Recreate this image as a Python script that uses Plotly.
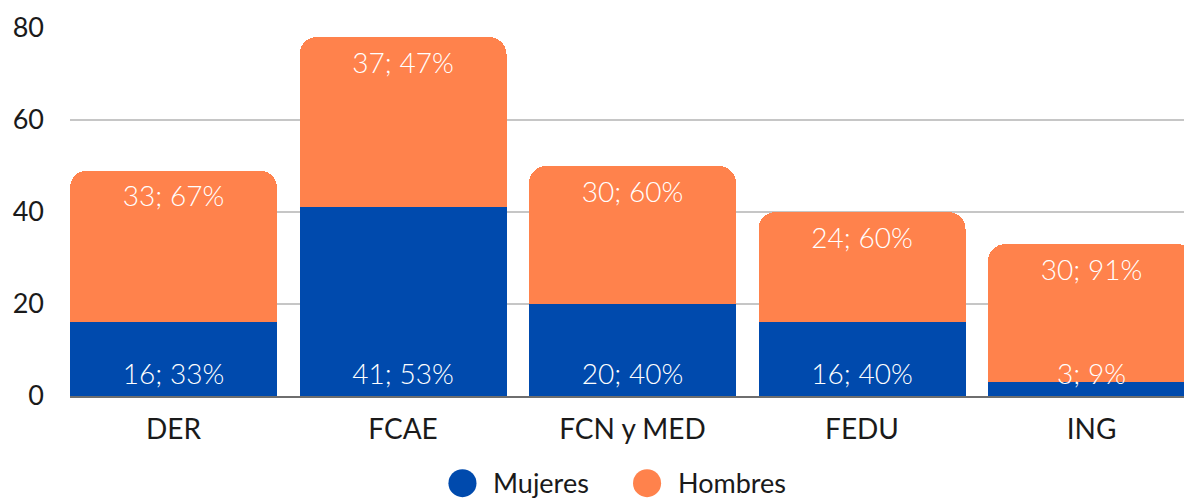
"""Stacked bar chart: Mujeres / Hombres by faculty."""

import plotly.graph_objects as go

CATEGORIES = ["DER", "FCAE", "FCN y MED", "FEDU", "ING"]
MUJERES = [16, 41, 20, 16, 3]
HOMBRES = [33, 37, 30, 24, 30]
MUJERES_PCT = [33, 53, 40, 40, 9]
HOMBRES_PCT = [67, 47, 60, 60, 91]
SERIES = ["Mujeres", "Hombres"]

BLUE = "#004AAD"
ORANGE = "#FF824C"
FONT = "Lato"

totals = [m + h for m, h in zip(MUJERES, HOMBRES)]
mujeres_text = [f"{v}; {p}%" for v, p in zip(MUJERES, MUJERES_PCT)]
hombres_text = [f"{v}; {p}%" for v, p in zip(HOMBRES, HOMBRES_PCT)]

fig = go.Figure()
fig.add_trace(go.Bar(x=CATEGORIES, y=MUJERES, name=SERIES[0], marker_color=BLUE,
                     marker_line_width=0, showlegend=False, hoverinfo="skip"))
fig.add_trace(go.Bar(x=CATEGORIES, y=HOMBRES, name=SERIES[1], marker_color=ORANGE,
                     marker_line_width=0, showlegend=False, hoverinfo="skip"))

# labels: offset from the segment ends, in data units
label_font = dict(family=FONT, size=28, color="white", weight=300)
fig.add_trace(go.Scatter(x=CATEGORIES, y=[4.2] * len(CATEGORIES), mode="text",
                         text=mujeres_text, textfont=label_font,
                         showlegend=False, hoverinfo="skip", cliponaxis=False))
fig.add_trace(go.Scatter(x=CATEGORIES, y=[t - 6.2 for t in totals], mode="text",
                         text=hombres_text, textfont=label_font,
                         showlegend=False, hoverinfo="skip", cliponaxis=False))

# legend drawn by hand (plotly caps legend marker size)
legend_items = [(SERIES[0], BLUE, 0.3523), (SERIES[1], ORANGE, 0.518)]
shapes, annotations = [], []
for name, color, lx in legend_items:
    shapes.append(dict(type="circle", xref="paper", yref="paper",
                       x0=lx - 0.0126, x1=lx + 0.0126,
                       y0=-0.199, y1=-0.275, fillcolor=color, line_width=0))
    annotations.append(dict(text=name, xref="paper", yref="paper",
                            x=lx + 0.0265, y=-0.236, xanchor="left",
                            yanchor="middle", showarrow=False, borderpad=0,
                            font=dict(size=27, color="#1a1a1a")))

fig.update_layout(
    width=1184,
    height=499,
    barmode="stack",
    bargap=0.098,
    barcornerradius=17,
    margin=dict(l=70, r=0, t=28, b=103),
    paper_bgcolor="white",
    plot_bgcolor="white",
    font=dict(family=FONT, size=27, color="#1a1a1a"),
    showlegend=False,
    shapes=shapes,
    annotations=annotations,
)
fig.update_xaxes(range=[-0.451, 4.403], showgrid=False, showline=True,
                 linecolor="#6e6e6e", linewidth=2, ticks="", automargin=False,
                 ticklabelstandoff=7, tickfont=dict(size=28))
fig.update_yaxes(range=[0, 80], dtick=20, showgrid=True, gridcolor="#c6c6c6",
                 gridwidth=2, zeroline=False, showline=False, ticks="",
                 automargin=False, ticklabelstandoff=25, tickfont=dict(size=27))

fig.write_html("out.html", config={"displayModeBar": False},
               post_script="document.body.style.margin = '0';")
